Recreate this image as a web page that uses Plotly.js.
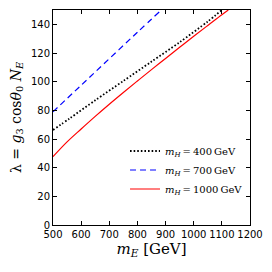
<!DOCTYPE html>
<html><head><meta charset="utf-8">
<script src="https://cdn.plot.ly/plotly-3.0.1.min.js"></script>
<style>body{margin:0;padding:0;background:#fff}#chart{width:272px;height:272px}</style>
</head><body><div id="chart"></div>
<script>
const mE400 = [500, 560, 650, 750, 850, 950, 1050, 1100];
const lam400 = [66.3, 74.5, 87, 100.5, 114, 127.5, 142, 150];
const mE700 = [500, 600, 700, 800, 885];
const lam700 = [79, 97.5, 116, 134.5, 150];
const mE1000 = [500, 550, 600, 650, 700, 750, 800, 850, 900, 950, 1000, 1050, 1100, 1123];
const lam1000 = [47.7, 58, 67, 75.8, 84.3, 92.5, 100.5, 108.4, 116.2, 124, 131.7, 139.2, 146.7, 150];
const names = ['<i>m</i><sub><i>H</i></sub>\u2009=\u2009400\u2009GeV',
               '<i>m</i><sub><i>H</i></sub>\u2009=\u2009700\u2009GeV',
               '<i>m</i><sub><i>H</i></sub>\u2009=\u20091000\u2009GeV'];
const xTicks = [500, 600, 700, 800, 900, 1000, 1100, 1200];
const yTicks = [0, 20, 40, 60, 80, 100, 120, 140];

const traces = [
  {x: mE400, y: lam400, name: names[0], mode: 'lines', line: {color: 'black', dash: '1.6px,2px', width: 1.8, shape: 'spline', smoothing: 0.8}},
  {x: mE700, y: lam700, name: names[1], mode: 'lines', line: {color: 'blue', dash: '6px,4px', width: 1.2, shape: 'spline'}},
  {x: mE1000, y: lam1000, name: names[2], mode: 'lines', line: {color: 'red', width: 1.2, shape: 'spline', smoothing: 1}}
];
const axisCommon = {showgrid: false, zeroline: false, showline: true, mirror: 'allticks', linecolor: 'black', linewidth: 1,
  ticks: 'inside', ticklen: 4, tickcolor: 'black', tickangle: 0, tickfont: {family: 'DejaVu Sans', size: 10, color: 'black'}};
const layout = {
  width: 272, height: 272,
  margin: {l: 53, r: 22, t: 10, b: 47},
  paper_bgcolor: 'white', plot_bgcolor: 'white',
  showlegend: true,
  legend: {x: 0.99, y: 0.1, xanchor: 'right', yanchor: 'bottom', bgcolor: 'rgba(255,255,255,0)', borderwidth: 0,
    font: {family: 'DejaVu Serif', size: 10, color: 'black'}, tracegroupgap: 0, itemwidth: 30},
  xaxis: Object.assign({}, axisCommon, {range: [500, 1200], tickvals: xTicks,
    title: {text: '<i>m</i><sub><i>E</i></sub> [GeV]', font: {family: 'DejaVu Serif', size: 15, color: 'black'}, standoff: 4}}),
  yaxis: Object.assign({}, axisCommon, {range: [0, 150], tickvals: yTicks,
    title: {text: '\u03bb = <i>g</i><sub>3</sub> cos<i>\u03b8</i><sub>0</sub> <i>N</i><sub><i>E</i></sub>', font: {family: 'DejaVu Serif', size: 14, color: 'black'}, standoff: 6}})
};
Plotly.newPlot('chart', traces, layout, {displayModeBar: false, staticPlot: true});
</script></body></html>
